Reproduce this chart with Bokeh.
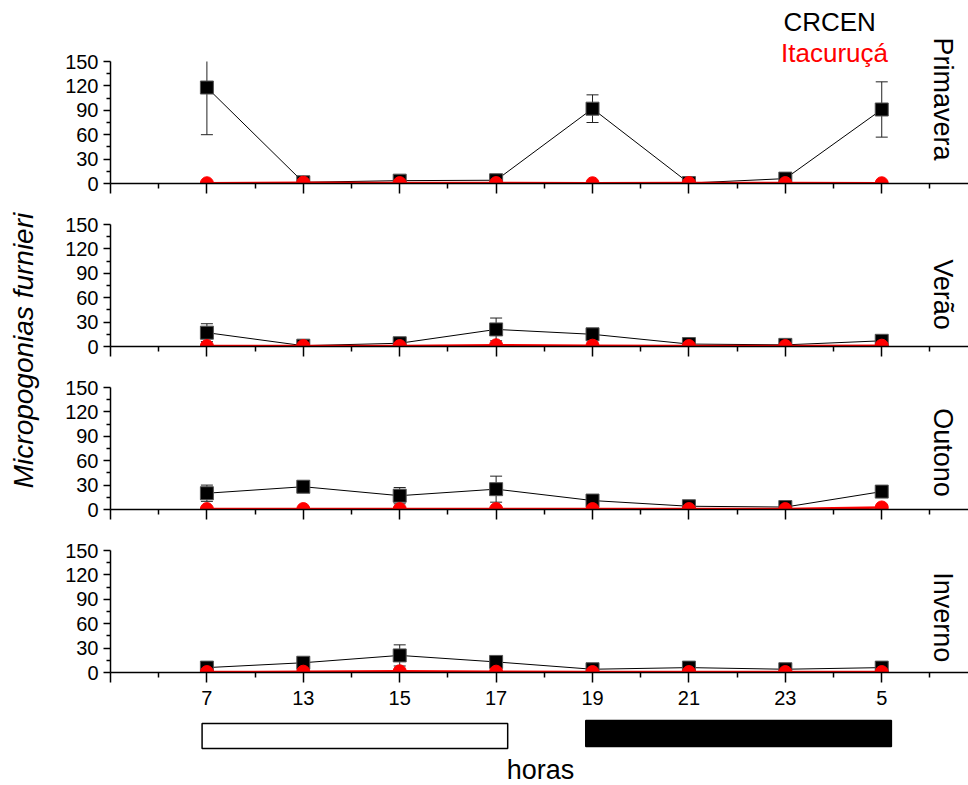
import math
from bokeh.plotting import figure
from bokeh.models import Range1d, FixedTicker, Label
from bokeh.layouts import row, column
from bokeh.embed import file_html
from bokeh.resources import INLINE

# ---------------- data ----------------
hours = ["7", "13", "15", "17", "19", "21", "23", "5"]
seasons = ["Primavera", "Verão", "Outono", "Inverno"]

crcen_primavera = [118, 1.5, 3.5, 4, 92, 0.5, 6, 91]
crcen_primavera_err = [58, 1, 1.5, 2, 17, 0.5, 2, 34]
crcen_verao = [17, 1, 4, 21, 15, 3, 2, 7]
crcen_verao_err = [11, 1, 2, 14, 5, 1, 1, 3]
crcen_outono = [20, 28, 17, 25, 11, 4, 3, 22]
crcen_outono_err = [10, 7, 10, 16, 4, 1, 2, 2]
crcen_inverno = [6, 12, 21, 13, 4, 6, 4, 6]
crcen_inverno_err = [2, 3, 13, 3, 1, 1, 1, 1]

ita_primavera = [0.3, 1, 0.5, 0.5, 0.3, 0.5, 0.5, 0.3]
ita_verao = [0.5, 0.5, 0.5, 1.5, 1, 0.5, 0.5, 1]
ita_outono = [0.5, 0.5, 0.5, 0.5, 0.5, 0.5, 0.5, 2.5]
ita_inverno = [0.5, 1, 1.5, 1, 0.5, 0.5, 0.5, 0.5]

y_ticks = [0, 30, 60, 90, 120, 150]
y_minor = [15, 45, 75, 105, 135]
y_max = 150

# day / night bars (in hour-category index units)
period_start = [-0.05, 3.93]
period_end = [3.12, 7.1]
period_fill = ["white", "black"]

crcen = [crcen_primavera, crcen_verao, crcen_outono, crcen_inverno]
crcen_err = [crcen_primavera_err, crcen_verao_err, crcen_outono_err, crcen_inverno_err]
ita = [ita_primavera, ita_verao, ita_outono, ita_inverno]

FONT = "Liberation Sans"
x = list(range(len(hours)))
x_range = Range1d(-1, 7.9)

season_label_y = [104, 64, 70, 68]


def style_axes(p, show_x_labels):
    p.grid.visible = False
    ya = p.yaxis[0]
    ya.ticker = FixedTicker(ticks=y_ticks, minor_ticks=y_minor)
    ya.bounds = (0, y_max)
    ya.major_tick_out = 7
    ya.major_tick_in = 0
    ya.minor_tick_out = 4
    ya.minor_tick_in = 0
    ya.axis_line_width = 1.5
    ya.major_tick_line_width = 1.5
    ya.minor_tick_line_width = 1.5
    ya.major_label_standoff = 5
    ya.major_label_text_font = FONT
    ya.major_label_text_font_size = "20px"
    ya.major_label_text_color = "black"

    xa = p.xaxis[0]
    xa.ticker = FixedTicker(ticks=list(range(-1, len(hours))),
                            minor_ticks=[i + 0.5 for i in range(-1, len(hours))])
    xa.major_tick_out = 10
    xa.major_tick_in = 0
    xa.minor_tick_out = 5
    xa.minor_tick_in = 0
    xa.axis_line_width = 1.5
    xa.major_tick_line_width = 1.5
    xa.minor_tick_line_width = 1.5
    xa.major_label_text_font = FONT
    xa.major_label_text_color = "black"
    if show_x_labels:
        ov = {-1: ""}
        ov.update({i: h for i, h in enumerate(hours)})
        xa.major_label_overrides = ov
        xa.major_label_text_font_size = "20px"
        xa.major_label_standoff = 8
    else:
        xa.major_label_overrides = {i: "" for i in range(-1, len(hours))}
        xa.major_label_text_font_size = "1px"
        xa.major_label_standoff = 0


panels = []
for k in range(4):
    if k == 0:
        top, frame_h = 0, 183
    else:
        top, frame_h = 21, 122
    bottom = 44 if k == 3 else 20
    y_end = y_max * frame_h / 122.0
    p = figure(width=918, height=top + frame_h + bottom, x_range=x_range,
               y_range=Range1d(0, y_end), output_backend="svg",
               toolbar_location=None, min_border=0,
               min_border_left=60, min_border_right=0,
               min_border_top=top, min_border_bottom=bottom,
               outline_line_color=None)
    style_axes(p, k == 3)

    m = crcen[k]
    e = crcen_err[k]
    lo = [a - b for a, b in zip(m, e)]
    hi = [min(a + b, y_max) for a, b in zip(m, e)]
    cap_x = [xi for xi, a, b in zip(x, m, e) if a + b <= y_max]
    cap_hi = [a + b for a, b in zip(m, e) if a + b <= y_max]
    p.line(x, m, line_color="black", line_width=1)
    p.segment(x0=x, y0=lo, x1=x, y1=hi, line_color="#222222", line_width=1)
    p.scatter(x, lo, marker="dash", size=12, line_color="#222222", line_width=1)
    p.scatter(cap_x, cap_hi, marker="dash", size=12, line_color="#222222", line_width=1)
    p.scatter(x, m, marker="square", size=13, fill_color="black",
              line_color="#555555", line_width=1)

    p.line(x, ita[k], line_color="red", line_width=2.5)
    p.scatter(x, ita[k], marker="circle", size=13, fill_color="red",
              line_color="red")

    p.add_layout(Label(x=7.64, y=season_label_y[k], text=seasons[k],
                       angle=-math.pi / 2, text_align="center",
                       text_baseline="middle", text_font=FONT,
                       text_font_size="27px", text_color="black"))
    if k == 0:
        p.add_layout(Label(x=6.46, y=198, text="CRCEN", text_align="center",
                           text_baseline="middle", text_font=FONT,
                           text_font_size="26px", text_color="black"))
        p.add_layout(Label(x=6.51, y=161, text="Itacuruçá", text_align="center",
                           text_baseline="middle", text_font=FONT,
                           text_font_size="26px", text_color="red"))
    panels.append(p)

# bottom strip with day / night bars and x title
pb = figure(width=918, height=69, x_range=x_range, y_range=Range1d(0, 69),
            output_backend="svg", toolbar_location=None, min_border=0,
            min_border_left=60, min_border_right=0, outline_line_color=None)
pb.axis.visible = False
pb.grid.visible = False
pb.quad(left=period_start[:1], right=period_end[:1], bottom=37, top=62,
        fill_color=period_fill[0], line_color="black", line_width=1.5)
pb.quad(left=period_start[1:], right=period_end[1:], bottom=39, top=65,
        fill_color=period_fill[1], line_color="black", line_width=1.5)
pb.add_layout(Label(x=3.46, y=16, text="horas", text_align="center",
                    text_baseline="middle", text_font=FONT,
                    text_font_size="27px", text_color="black"))

# left strip with y title
ps = figure(width=50, height=785, x_range=Range1d(0, 50), y_range=Range1d(0, 785),
            output_backend="svg", toolbar_location=None, min_border=0,
            outline_line_color=None)
ps.axis.visible = False
ps.grid.visible = False
ps.add_layout(Label(x=23, y=435, text="Micropogonias furnieri", angle=math.pi / 2,
                    text_align="center", text_baseline="middle", text_font=FONT,
                    text_font_style="italic", text_font_size="28px",
                    text_color="black"))

layout = row(ps, column(*panels, pb))

open("out.html", "w").write(file_html(layout, INLINE))
